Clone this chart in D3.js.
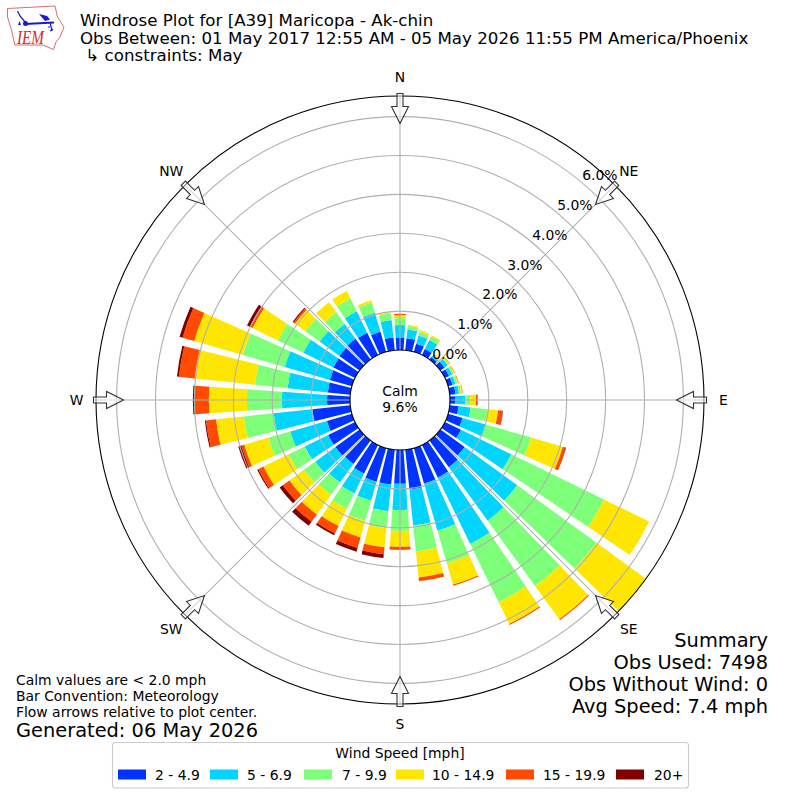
<!DOCTYPE html>
<html><head><meta charset="utf-8">
<script src="https://cdn.jsdelivr.net/npm/d3@7"></script>
<style>html,body{margin:0;padding:0;background:#fff}svg{display:block}text{font-family:"DejaVu Sans",sans-serif;fill:#000}</style>
</head><body>
<svg id="c" width="800" height="800"></svg>
<script>
const directions = d3.range(0, 360, 10);
const speedLabels = ["2 - 4.9","5 - 6.9","7 - 9.9","10 - 14.9","15 - 19.9","20+"];
const speedColors = ["#0033ff","#00d5ff","#7dff7a","#ffe600","#ff4a00","#800000"];
const s2to5   = [.31,.31,.22,.17,.08,.13,.12,.12,.15,.13,.23,.39,.46,.77,.85,.93,.95,1.03,.87,.90,.90,.82,.75,.77,.77,.67,.98,.59,.58,.59,.62,.64,.66,.64,.54,.33];
const s5to7   = [.33,.23,.22,.26,.05,.10,.09,.08,.09,.26,.31,.62,1.44,1.67,1.70,1.90,1.26,.93,.67,.69,.51,.57,.59,.64,.67,.98,1.00,1.16,1.04,1.21,.86,.63,.47,.61,.51,.45];
const s7to10  = [.18,.09,.09,.10,.03,.04,.04,.05,.05,.13,.44,1.21,2.65,2.52,2.08,1.67,.87,.67,.54,.44,.54,.44,.39,.36,.46,.59,.77,.90,.84,1.12,.73,.45,.37,.37,.27,.17];
const s10to15 = [.08,.03,.05,.04,.03,.03,.03,.03,.04,.15,.27,.85,1.29,1.59,1.05,.62,.57,.67,.41,.49,.44,.49,.62,.46,.72,.64,.72,.98,1.56,1.30,.72,.33,.32,.21,.06,.03];
const s15to20 = [.03,0,0,0,0,.01,.01,.01,.01,.03,.12,.08,0,.02,.03,.03,.03,.10,.08,.18,.28,.21,.23,.21,.15,.08,.26,.36,.41,.31,.08,.05,0,0,0,0];
const s20plus = [0,0,0,0,0,0,0,0,0,.01,.01,.01,0,0,0,0,0,0,0,.10,.10,.05,.13,.10,.03,.08,.03,.05,.05,.08,.08,.03,0,0,0,0];
const speedSeries = [s2to5,s5to7,s7to10,s10to15,s15to20,s20plus];
const rTicks = [0,1,2,3,4,5,6];
const compass = [["N",0],["NE",45],["E",90],["SE",135],["S",180],["SW",225],["W",270],["NW",315]];
const titleLines = ["Windrose Plot for [A39] Maricopa - Ak-chin","Obs Between: 01 May 2017 12:55 AM - 05 May 2026 11:55 PM America/Phoenix"," ↳ constraints: May"];
const summaryLines = ["Summary","Obs Used: 7498","Obs Without Wind: 0","Avg Speed: 7.4 mph"];
const noteLines = ["Calm values are < 2.0 mph","Bar Convention: Meteorology","Flow arrows relative to plot center."];

const cx=400, cy=400, R=304, hole=50;
const svg=d3.select("#c");
const r=d3.scaleLinear().domain([0,6]).range([hole,hole+6*38.9]);
const rad=d=>d*Math.PI/180;
const pol=(a,q)=>[cx+q*Math.sin(rad(a)),cy-q*Math.cos(rad(a))];

svg.append("defs").append("clipPath").attr("id","rim").append("circle").attr("cx",cx).attr("cy",cy).attr("r",R);

// bars
const rows=directions.map((d,i)=>{const o={dir:d};speedSeries.forEach((s,k)=>o["k"+k]=s[i]);return o;});
const stack=d3.stack().keys(speedSeries.map((_,k)=>"k"+k))(rows);
const arc=d3.arc();
const plot=svg.append("g").attr("clip-path","url(#rim)");
stack.forEach((layer,k)=>{
  plot.append("g").attr("transform",`translate(${cx},${cy})`).selectAll("path").data(layer.filter(d=>d[1]>d[0])).join("path")
    .attr("fill",speedColors[k])
    .attr("d",d=>arc({innerRadius:r(d[0]),outerRadius:r(d[1]),startAngle:rad(d.data.dir-4),endAngle:rad(d.data.dir+4)}));
});

// grid
const grid=svg.append("g").attr("fill","none").attr("stroke","#b0b0b0").attr("stroke-width",1.1);
grid.selectAll("circle").data(rTicks.slice(1)).join("circle").attr("cx",cx).attr("cy",cy).attr("r",d=>r(d));
grid.selectAll("line").data(compass).join("line")
  .attr("x1",d=>pol(d[1],hole)[0]).attr("y1",d=>pol(d[1],hole)[1])
  .attr("x2",d=>pol(d[1],R)[0]).attr("y2",d=>pol(d[1],R)[1]);

// spines
svg.append("circle").attr("cx",cx).attr("cy",cy).attr("r",R).attr("fill","none").attr("stroke","#000").attr("stroke-width",1.1);
svg.append("circle").attr("cx",cx).attr("cy",cy).attr("r",hole).attr("fill","#fff").attr("stroke","#000").attr("stroke-width",1.1);

// compass arrows
const arrowShape="M-3,-306.5L3,-306.5L3,-293.5L8.5,-293.5L0,-276.5L-8.5,-293.5L-3,-293.5Z";
svg.append("g").selectAll("path").data(compass).join("path")
  .attr("transform",d=>`translate(${cx},${cy}) rotate(${d[1]})`)
  .attr("d",arrowShape).attr("fill","#fff").attr("fill-opacity",.5).attr("stroke","#333").attr("stroke-width",1.1);

// labels
svg.append("g").selectAll("text").data(compass).join("text")
  .attr("x",d=>pol(d[1],323.5)[0]).attr("y",d=>pol(d[1],323.5)[1]+5)
  .attr("text-anchor","middle").attr("font-size",13.9).text(d=>d[0]);
svg.append("g").selectAll("text").data(rTicks).join("text")
  .attr("x",d=>pol(40,r(d))[0]+17.7).attr("y",d=>pol(40,r(d))[1]-2.7)
  .attr("text-anchor","middle").attr("font-size",13.9).text(d=>d.toFixed(1)+"%");
svg.append("text").attr("x",cx).attr("y",396).attr("text-anchor","middle").attr("font-size",13.9).text("Calm");
svg.append("text").attr("x",cx).attr("y",412).attr("text-anchor","middle").attr("font-size",13.9).text("9.6%");

// header
svg.append("g").selectAll("text").data(titleLines).join("text").attr("xml:space","preserve").style("white-space","pre")
  .attr("x",80).attr("y",(d,i)=>26+i*17.6).attr("font-size",16.67).text(d=>d);

// summary
svg.append("g").selectAll("text").data(summaryLines).join("text")
  .attr("x",768).attr("y",(d,i)=>647+i*22).attr("text-anchor","end").attr("font-size",19.4).text(d=>d);
svg.append("g").selectAll("text").data(noteLines).join("text")
  .attr("x",16).attr("y",(d,i)=>684.5+i*16).attr("font-size",13.9).text(d=>d);
svg.append("text").attr("x",16).attr("y",737).attr("font-size",19.4).text("Generated: 06 May 2026");

// legend
const leg=svg.append("g");
leg.append("rect").attr("x",112.5).attr("y",742.5).attr("width",576).attr("height",45.5).attr("rx",3).attr("fill","#fff").attr("stroke","#ccc").attr("stroke-width",1.1);
leg.append("text").attr("x",400).attr("y",758).attr("text-anchor","middle").attr("font-size",13.9).text("Wind Speed [mph]");
const legX=[118,210,304,396,506,616], legT=[155,247,342,432,543,654];
speedLabels.forEach((l,i)=>{
  leg.append("rect").attr("x",legX[i]).attr("y",769.5).attr("width",28).attr("height",10).attr("fill",speedColors[i]);
  leg.append("text").attr("x",legT[i]).attr("y",779.5).attr("font-size",13.9).text(l);
});

// logo
const logo=svg.append("g");
logo.append("path").attr("d","M7.5,8.5L55,6L57.5,17L64,27L60,37L56,42L53.5,49.5L43,45L15,45L13,37L11.5,30L7.5,17Z")
  .attr("fill","none").attr("stroke","#e26a6a").attr("stroke-width",1);
logo.append("path").attr("d","M25,24L54,22.5").attr("stroke","#1a1ad0").attr("stroke-width",2.2).attr("fill","none");
logo.append("path").attr("d","M17.5,11L20,16L25,22").attr("stroke","#1a1ad0").attr("stroke-width",1.3).attr("fill","none");
logo.append("path").attr("d","M39,14L47,16L50,19.5L45,21Z").attr("fill","#1a1ad0");
logo.append("path").attr("d","M50,22L52,31M48,27L50,27M50,31L53,29").attr("stroke","#1a1ad0").attr("stroke-width",1.2).attr("fill","none");
logo.append("circle").attr("cx",25.5).attr("cy",23.5).attr("r",2.5).attr("fill","#1a1ad0");
logo.append("path").attr("d","M18,25L21,25L19.5,21Z").attr("fill","#1a1ad0");
logo.append("text").attr("x",17).attr("y",44).style("font-family","'Liberation Serif',serif").style("fill","#d42b2b").attr("font-style","italic").attr("font-size",18).attr("textLength",27).attr("lengthAdjust","spacingAndGlyphs").text("IEM");
</script>
</body></html>
